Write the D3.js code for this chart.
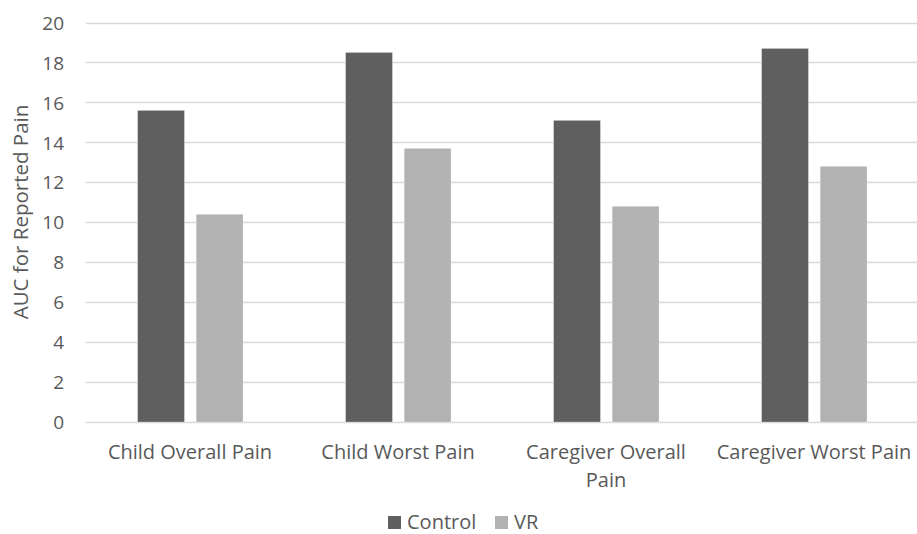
<!DOCTYPE html>
<html>
<head>
<meta charset="utf-8">
<script src="https://cdn.jsdelivr.net/npm/d3@7"></script>
<style>
  html, body { margin: 0; padding: 0; background: #fff; }
  svg { display: block; font-family: "Open Sans", "Noto Sans", sans-serif; }
</style>
</head>
<body>
<svg id="chart" width="917" height="534"></svg>
<script>
// Pain AUC by outcome and group
const categories = ["Child Overall Pain", "Child Worst Pain", "Caregiver Overall Pain", "Caregiver Worst Pain"];
const seriesNames = ["Control", "VR"];
const controlValues = [15.6, 18.5, 15.1, 18.7];
const vrValues = [10.4, 13.7, 10.8, 12.8];
const yTicks = [0, 2, 4, 6, 8, 10, 12, 14, 16, 18, 20];
const yTitle = "AUC for Reported Pain";

const colors = { Control: "#5f5f5f", VR: "#b2b2b2" };
const textColor = "#595959";
const gridColor = "#d9d9d9";
const font = "'Open Sans', 'Noto Sans', sans-serif";

const svg = d3.select("#chart");
const plot = { left: 86, right: 918, top: 22.5, bottom: 422 };

const rows = categories.map((c, i) => ({
  category: c,
  values: [
    { series: "Control", value: controlValues[i] },
    { series: "VR", value: vrValues[i] }
  ]
}));

const x0 = d3.scaleBand().domain(categories).range([plot.left, plot.right]).padding(0);
const x1 = d3.scaleBand().domain(seriesNames)
  .range([x0.bandwidth() * 0.248, x0.bandwidth() * 0.755]).paddingInner(0.2).paddingOuter(0);
const y = d3.scaleLinear().domain([0, 20]).range([plot.bottom, plot.top]);

// horizontal gridlines
svg.append("g")
  .selectAll("line")
  .data(yTicks)
  .join("line")
  .attr("x1", plot.left)
  .attr("x2", 917)
  .attr("y1", d => Math.round(y(d)) + 0.5)
  .attr("y2", d => Math.round(y(d)) + 0.5)
  .attr("stroke", gridColor)
  .attr("stroke-width", 1.3);

// y axis labels
const yAxis = d3.axisLeft(y).tickValues(yTicks).tickSize(0).tickPadding(0);
const yg = svg.append("g").attr("transform", `translate(${plot.left - 22},0)`).call(yAxis);
yg.select(".domain").remove();
yg.selectAll("text")
  .attr("fill", textColor)
  .attr("font-size", 19)
  .attr("font-family", font)
  .attr("dy", "0.35em");

// bars
const groups = svg.append("g")
  .selectAll("g")
  .data(rows)
  .join("g")
  .attr("transform", d => `translate(${x0(d.category)},0)`);

groups.selectAll("rect")
  .data(d => d.values)
  .join("rect")
  .attr("x", d => x1(d.series))
  .attr("width", x1.bandwidth())
  .attr("y", d => y(d.value))
  .attr("height", d => y(0) - y(d.value))
  .attr("fill", d => colors[d.series])
  .attr("stroke", "#ffffff")
  .attr("stroke-opacity", 0.35)
  .attr("stroke-width", 0.75);

// category axis labels, wrapped when wider than the available width
const maxLabelWidth = 198;
const xAxis = d3.axisBottom(x0).tickSize(0).tickPadding(0);
const xg = svg.append("g").attr("transform", `translate(0,${plot.bottom})`).call(xAxis);
xg.select(".domain").remove();
xg.selectAll("text")
  .attr("fill", textColor)
  .attr("font-size", 20)
  .attr("font-family", font)
  .attr("y", 37)
  .attr("dy", 0)
  .each(function(d) {
    const t = d3.select(this);
    const words = d.split(" ");
    t.text(null);
    let line = [];
    let lineNo = 0;
    let tspan = t.append("tspan").attr("x", 0).attr("y", 37);
    for (const w of words) {
      line.push(w);
      tspan.text(line.join(" "));
      if (tspan.node().getComputedTextLength() > maxLabelWidth && line.length > 1) {
        line.pop();
        tspan.text(line.join(" "));
        line = [w];
        lineNo++;
        tspan = t.append("tspan").attr("x", 0).attr("y", 37 + lineNo * 28).text(w);
      }
    }
  });

// y axis title
svg.append("text")
  .attr("transform", "translate(28,212) rotate(-90)")
  .attr("text-anchor", "middle")
  .attr("fill", textColor)
  .attr("font-size", 20.5)
  .text(yTitle);

// legend
const legendX = [388, 495];
const legend = svg.append("g").attr("transform", "translate(0,516)");
const items = legend.selectAll("g")
  .data(seriesNames)
  .join("g")
  .attr("transform", (d, i) => `translate(${legendX[i]},0)`);
items.append("rect")
  .attr("width", 13)
  .attr("height", 13)
  .attr("fill", d => colors[d]);
items.append("text")
  .attr("x", 19)
  .attr("y", 12.5)
  .attr("fill", textColor)
  .attr("font-size", 20)
  .text(d => d);
</script>
</body>
</html>
